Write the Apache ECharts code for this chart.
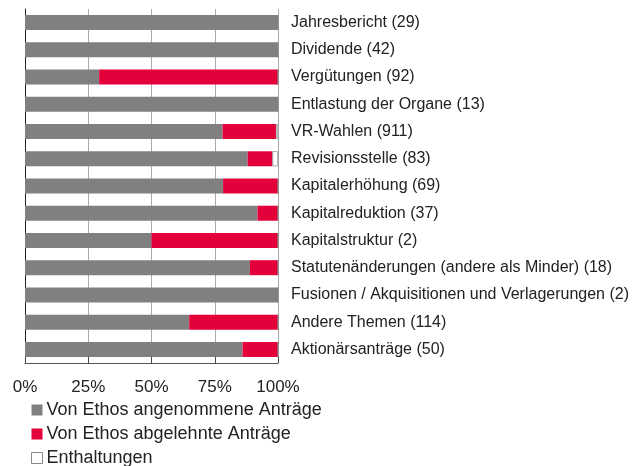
<!DOCTYPE html>
<html><head><meta charset="utf-8">
<script src="https://cdn.jsdelivr.net/npm/echarts@6/dist/echarts.min.js"></script>
<style>html,body{margin:0;padding:0;background:#fff}#c{width:643px;height:466px}</style>
</head><body><div id="c"></div>
<script>
const categories = [
  "Jahresbericht (29)",
  "Dividende (42)",
  "Vergütungen (92)",
  "Entlastung der Organe (13)",
  "VR-Wahlen (911)",
  "Revisionsstelle (83)",
  "Kapitalerhöhung (69)",
  "Kapitalreduktion (37)",
  "Kapitalstruktur (2)",
  "Statutenänderungen (andere als Minder) (18)",
  "Fusionen / Akquisitionen und Verlagerungen (2)",
  "Andere Themen (114)",
  "Aktionärsanträge (50)"
];
const accepted = [100, 100, 29.3, 100, 78.1, 88.0, 78.3, 91.9, 50, 88.9, 100, 64.9, 86.0];
const rejected = [0, 0, 70.7, 0, 21.1, 9.8, 21.7, 8.1, 50, 11.1, 0, 35.1, 14.0];
const abstained = [0, 0, 0, 0, 0.8, 2.2, 0, 0, 0, 0, 0, 0, 0];
const seriesNames = ["Von Ethos angenommene Anträge", "Von Ethos abgelehnte Anträge", "Enthaltungen"];
const xTicks = [0, 25, 50, 75, 100];

const FONT = "Liberation Sans";
const chart = echarts.init(document.getElementById('c'), null, {renderer: 'canvas'});
chart.setOption({
  animation: false,
  textStyle: {fontFamily: FONT},
  grid: {left: 25, top: 9, width: 253, height: 354, containLabel: false},
  xAxis: {
    type: 'value', min: 0, max: 100, interval: 25,
    axisLine: {show: true, lineStyle: {color: '#555', width: 1}},
    axisTick: {show: true, inside: true, length: 6, lineStyle: {color: '#444'}},
    axisLabel: {formatter: v => v + '%', fontSize: 17, color: '#222', margin: 16, fontFamily: FONT},
    splitLine: {show: true, lineStyle: {color: '#aaa', width: 1}}
  },
  yAxis: [{
    type: 'category', data: categories, inverse: true, position: 'left',
    axisLine: {show: true, lineStyle: {color: '#222', width: 1}},
    axisTick: {show: false}, axisLabel: {show: false}, splitLine: {show: false}
  }, {
    type: 'category', data: categories, inverse: true, position: 'right',
    axisLine: {show: false}, axisTick: {show: false},
    axisLabel: {show: true, align: 'left', margin: 13, fontSize: 16, color: '#222', fontFamily: FONT}
  }],
  legend: {
    orient: 'vertical', left: 31, top: 401, height: 80, padding: 0, icon: 'rect',
    itemWidth: 11, itemHeight: 11, itemGap: 6,
    textStyle: {fontSize: 18, color: '#222', fontFamily: FONT, padding: [0, 0, 0, -1]},
    data: [
      {name: seriesNames[0]},
      {name: seriesNames[1]},
      {name: seriesNames[2], itemStyle: {color: '#fff', borderColor: '#888', borderWidth: 1}}
    ]
  },
  series: [
    {name: seriesNames[0], type: 'bar', stack: 'a', data: accepted, barWidth: 15,
     itemStyle: {color: '#808080'}},
    {name: seriesNames[1], type: 'bar', stack: 'a', data: rejected, barWidth: 15,
     itemStyle: {color: '#e4003a'}},
    {name: seriesNames[2], type: 'bar', stack: 'a', data: abstained, barWidth: 15,
     itemStyle: {color: '#ffffff', borderColor: '#888', borderWidth: 0.7}}
  ]
});
</script></body></html>
